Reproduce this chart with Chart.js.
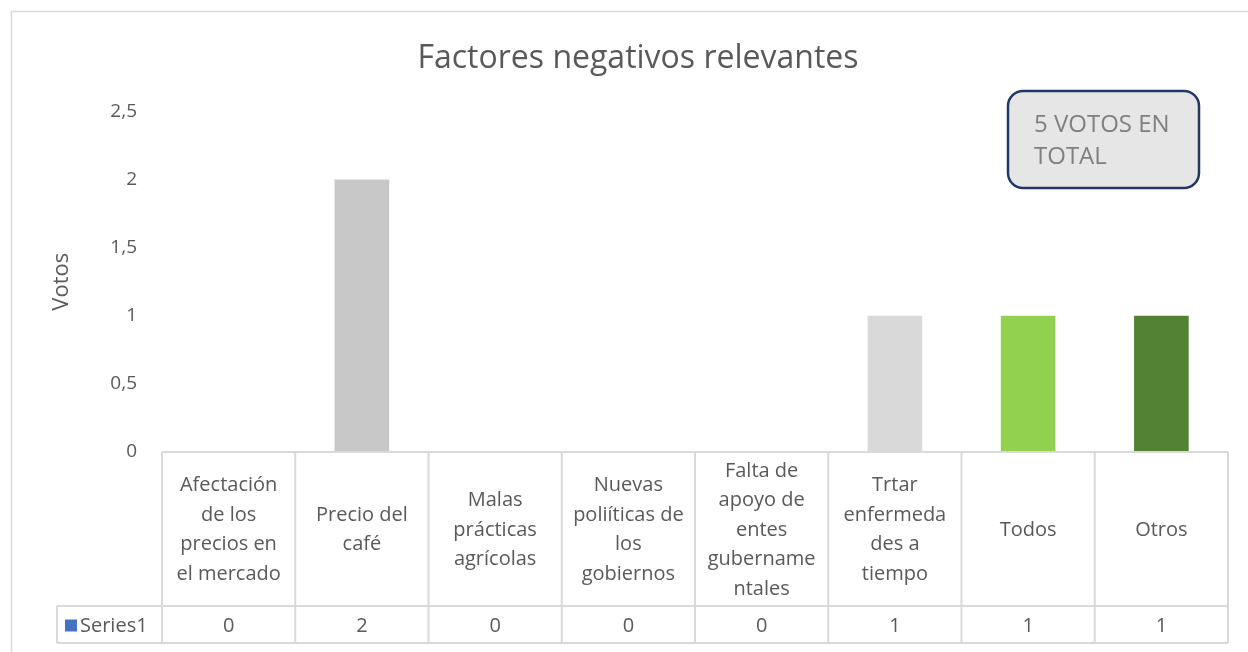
<!DOCTYPE html>
<html>
<head>
<meta charset="utf-8">
<script src="https://cdn.jsdelivr.net/npm/chart.js@4"></script>
<style>
  html, body { margin: 0; padding: 0; background: #fff; }
  #wrap { width: 1248px; height: 652px; position: relative; }
</style>
</head>
<body>
<div id="wrap"><canvas id="factoresChart"></canvas></div>
<script>
// categorías (con los saltos de línea de la tabla de datos)
const categories = [
  ["Afectación", "de los", "precios en", "el mercado"],
  ["Precio del", "café"],
  ["Malas", "prácticas", "agrícolas"],
  ["Nuevas", "poliíticas de", "los", "gobiernos"],
  ["Falta de", "apoyo de", "entes", "gubername", "ntales"],
  ["Trtar", "enfermeda", "des a", "tiempo"],
  ["Todos"],
  ["Otros"],
];
const votos = [0, 2, 0, 0, 0, 1, 1, 1];
const barColors = ["#a5a5a5", "#c8c8c8", "#a5a5a5", "#a5a5a5", "#a5a5a5", "#d9d9d9", "#92d050", "#548235"];
const yTicks = [0, 0.5, 1, 1.5, 2, 2.5];
const seriesName = "Series1";
const noteLines = ["5 VOTOS EN", "TOTAL"];

const FONT = "'Open Sans', sans-serif";
const TEXT = "#595959";
const LINE = "#d9d9d9";

const dataTable = {
  id: "dataTable",
  beforeDraw(chart) {
    const c = chart.ctx;
    c.save();
    c.strokeStyle = LINE;
    c.lineWidth = 1.5;
    c.strokeRect(11.5, 11.5, chart.width + 10, chart.height + 10);
    c.restore();
  },
  afterDraw(chart) {
    const c = chart.ctx;
    const area = chart.chartArea;
    const xs = chart.scales.x;
    const n = categories.length;
    const top = area.bottom;
    const headBottom = top + 154;
    const rowBottom = headBottom + 37;
    const keyLeft = 57;

    const edges = [area.left];
    for (let i = 1; i < n; i++) {
      edges.push((xs.getPixelForValue(i - 1) + xs.getPixelForValue(i)) / 2);
    }
    edges.push(area.right);

    c.save();
    c.strokeStyle = LINE;
    c.lineWidth = 2;
    c.beginPath();
    c.moveTo(area.left, top); c.lineTo(area.right, top);
    c.moveTo(keyLeft, headBottom); c.lineTo(area.right, headBottom);
    c.moveTo(keyLeft, rowBottom); c.lineTo(area.right, rowBottom);
    c.moveTo(keyLeft, headBottom); c.lineTo(keyLeft, rowBottom);
    edges.forEach(x => { c.moveTo(x, top); c.lineTo(x, rowBottom); });
    c.stroke();

    c.fillStyle = TEXT;
    c.font = "20px " + FONT;
    c.textAlign = "center";
    c.textBaseline = "middle";
    const lh = 29.5;
    const midHead = (top + headBottom) / 2 + 1;
    const midRow = (headBottom + rowBottom) / 2 + 2;
    categories.forEach((lines, i) => {
      const cx = xs.getPixelForValue(i);
      const y0 = midHead - (lines.length - 1) * lh / 2;
      lines.forEach((t, k) => c.fillText(t, cx, y0 + k * lh));
      c.fillText(String(votos[i]).replace(".", ","), cx, midRow);
    });

    c.fillStyle = "#4472c4";
    c.fillRect(keyLeft + 8, midRow - 7, 12, 12);
    c.fillStyle = TEXT;
    c.textAlign = "left";
    c.fillText(seriesName, keyLeft + 23, midRow);

    // recuadro de nota
    const bx = 1008, by = 91, bw = 191, bh = 97;
    c.beginPath();
    c.roundRect(bx, by, bw, bh, 15);
    c.fillStyle = "#e7e6e6";
    c.fill();
    c.lineWidth = 2.5;
    c.strokeStyle = "#1f3864";
    c.stroke();
    c.fillStyle = "#7f7f7f";
    c.font = "24px " + FONT;
    c.fillText(noteLines[0], bx + 26, by + 34);
    c.fillText(noteLines[1], bx + 26, by + 66);
    c.restore();
  },
};

new Chart(document.getElementById("factoresChart"), {
  type: "bar",
  data: {
    labels: categories,
    datasets: [
      {
        label: seriesName,
        data: votos,
        backgroundColor: barColors,
        barPercentage: 0.41,
        categoryPercentage: 1,
      },
    ],
  },
  options: {
    responsive: true,
    maintainAspectRatio: false,
    animation: false,
    layout: {
      padding: { left: 48, right: 20, top: 0, bottom: 200 },
    },
    plugins: {
      legend: { display: false },
      tooltip: { enabled: false },
      title: {
        display: true,
        text: "Factores negativos relevantes",
        color: TEXT,
        font: { family: FONT, size: 32, weight: "normal" },
        padding: { top: 40, bottom: 33 },
      },
    },
    scales: {
      x: {
        display: false,
      },
      y: {
        min: 0,
        max: 2.5,
        afterFit: (s) => { s.width = 114; },
        afterBuildTicks: (s) => { s.ticks = yTicks.map(v => ({ value: v })); },
        grid: { display: false, drawTicks: false },
        border: { display: false },
        ticks: {
          color: TEXT,
          padding: 25,
          font: { family: FONT, size: 19 },
          callback: (v) => String(v).replace(".", ","),
        },
        title: {
          display: true,
          text: "Votos",
          color: TEXT,
          padding: 1,
          font: { family: FONT, size: 22 },
        },
      },
    },
  },
  plugins: [dataTable],
});
</script>
</body>
</html>
